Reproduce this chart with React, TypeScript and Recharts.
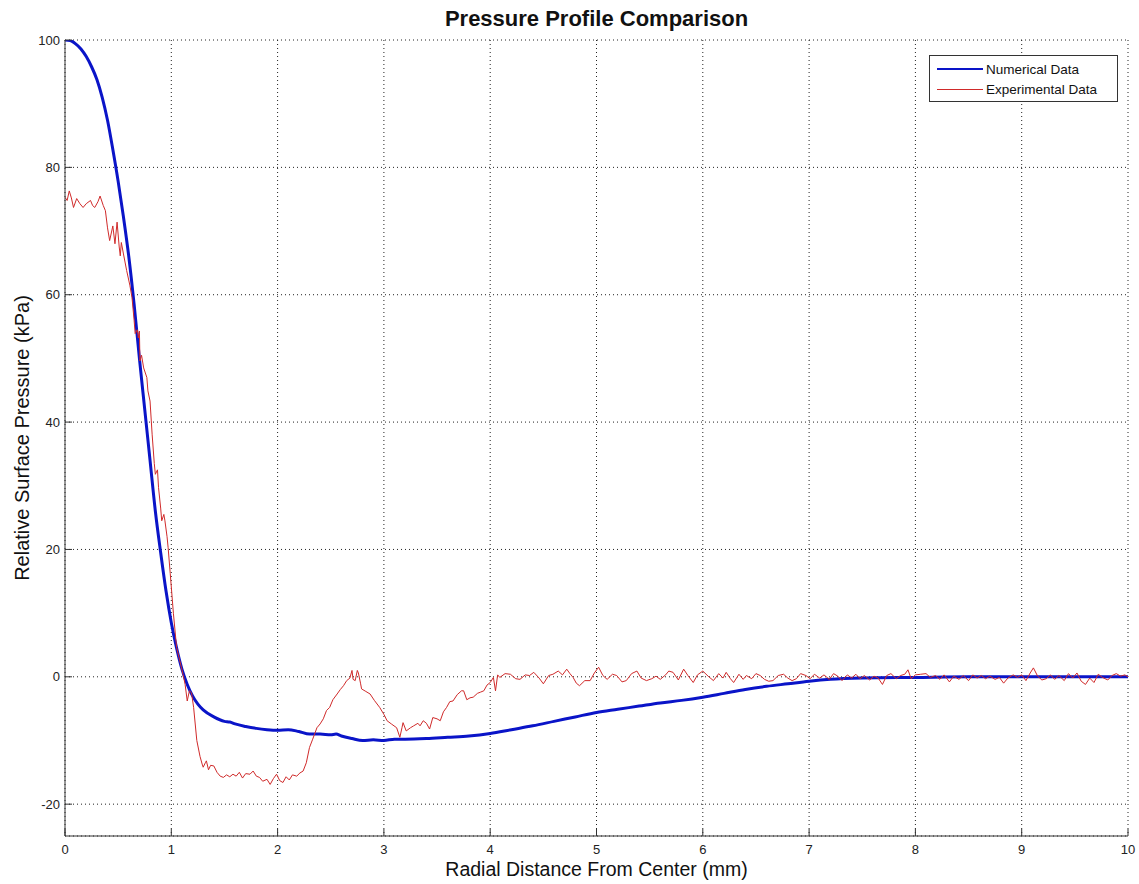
import { LineChart, Line, XAxis, YAxis, CartesianGrid, Legend } from 'recharts';

// Numerical (simulated) pressure profile
const numericalDistance = [
    0, 0.05, 0.1, 0.15, 0.2, 0.25, 0.3, 0.35, 0.4, 0.45, 0.5, 0.55, 0.6, 0.65, 0.7, 0.75, 0.8, 0.85, 0.9, 0.95,
    1.0, 1.05, 1.1, 1.15, 1.2, 1.25, 1.3, 1.4, 1.5, 1.55, 1.6, 1.7, 1.8, 1.9, 2.0, 2.1, 2.2, 2.3, 2.4, 2.5,
    2.55, 2.6, 2.7, 2.8, 2.9, 3.0, 3.1, 3.2, 3.4, 3.6, 3.8, 4.0, 4.2, 4.4, 4.6, 4.8, 5.0, 5.2, 5.4, 5.6,
    5.8, 6.0, 6.2, 6.4, 6.6, 6.8, 7.0, 7.2, 7.5, 8.0, 8.5, 9.0, 9.5, 10.0,
];
const numericalPressure = [
    100, 99.9, 99.4, 98.6, 97.4, 95.8, 93.8, 91.0, 87.4, 82.8, 77.8, 72.2, 66, 58.5, 50, 42, 34, 26, 19.5, 13.5,
    8.5, 4.5, 1.2, -1.2, -3.0, -4.3, -5.2, -6.3, -7.0, -7.1, -7.4, -7.8, -8.1, -8.3, -8.4, -8.3, -8.6, -9.0, -9.0, -9.1,
    -9.0, -9.3, -9.7, -10.0, -9.9, -10.0, -9.8, -9.8, -9.7, -9.5, -9.3, -8.9, -8.3, -7.7, -7.0, -6.3, -5.6, -5.1, -4.6, -4.1,
    -3.7, -3.2, -2.6, -2.0, -1.5, -1.1, -0.7, -0.4, -0.2, -0.1, 0, 0, 0, 0,
];

// Experimental readings [distance mm, pressure kPa]
const experimentalReadings: [number, number][] = [
    [0.00, 75.3], [0.02, 74.8], [0.04, 76.3], [0.06, 75.2], [0.08, 73.7], [0.11, 75.1], [0.14, 74.3], [0.17, 73.7],
    [0.20, 74.3], [0.24, 74.8], [0.26, 74.0], [0.28, 73.7], [0.31, 74.6], [0.33, 75.5], [0.36, 74.0], [0.38, 73.2],
    [0.40, 70.5], [0.42, 68.5], [0.45, 70.8], [0.47, 68.0], [0.49, 71.4], [0.51, 67.5], [0.52, 66.1], [0.53, 68.2],
    [0.55, 66.4], [0.58, 63.8], [0.61, 61.5], [0.63, 59.6], [0.65, 56.0], [0.66, 53.9], [0.68, 54.5], [0.69, 53.2],
    [0.70, 54.3], [0.705, 49.6], [0.72, 50.5], [0.74, 48.5], [0.77, 47.0], [0.78, 44.9], [0.80, 43.3], [0.82, 38.0],
    [0.84, 33.5], [0.85, 31.8], [0.87, 32.5], [0.88, 29.7], [0.90, 26.5], [0.91, 24.5], [0.93, 25.5], [0.94, 24.5],
    [0.96, 22.0], [0.97, 20.3], [0.99, 16.2], [1.02, 9.9], [1.05, 4.6], [1.08, 2.5], [1.11, 0.4], [1.13, -1.2],
    [1.15, -3.8], [1.17, -2.2], [1.19, -2.5], [1.21, -4.8], [1.24, -10.0], [1.27, -12.5], [1.29, -13.7], [1.30, -14.2],
    [1.32, -13.5], [1.33, -13.2], [1.35, -14.6], [1.37, -13.9], [1.40, -14.0], [1.43, -15.0], [1.46, -15.6], [1.49, -15.8],
    [1.52, -15.4], [1.55, -15.7], [1.58, -15.3], [1.61, -15.6], [1.64, -15.0], [1.67, -15.9], [1.70, -15.2], [1.74, -15.3],
    [1.77, -14.8], [1.80, -15.6], [1.83, -15.8], [1.86, -16.4], [1.90, -16.1], [1.93, -16.9], [1.96, -16.0], [1.99, -15.3],
    [2.02, -16.3], [2.05, -16.6], [2.08, -15.7], [2.11, -16.2], [2.14, -15.4], [2.18, -15.6], [2.21, -15.1], [2.24, -14.8],
    [2.27, -13.5], [2.30, -11.1], [2.33, -9.8], [2.37, -8.0], [2.40, -7.4], [2.43, -6.6], [2.46, -5.3], [2.49, -4.8],
    [2.52, -3.6], [2.56, -2.7], [2.59, -2.0], [2.62, -1.4], [2.65, -0.6], [2.68, -0.2], [2.70, 1.0], [2.71, -0.4],
    [2.73, -0.6], [2.75, 1.0], [2.76, 0.6], [2.78, -1.0], [2.79, -1.9], [2.83, -2.3], [2.87, -2.7], [2.91, -3.7],
    [2.96, -4.8], [3.00, -5.9], [3.03, -6.9], [3.07, -7.4], [3.12, -8.0], [3.15, -9.5], [3.17, -8.0], [3.18, -7.2],
    [3.21, -8.5], [3.25, -8.0], [3.28, -7.7], [3.32, -7.3], [3.34, -7.7], [3.37, -6.9], [3.40, -7.3], [3.43, -8.2],
    [3.46, -6.4], [3.50, -6.6], [3.53, -6.9], [3.56, -5.5], [3.59, -4.8], [3.62, -3.9], [3.65, -3.8], [3.69, -2.8],
    [3.73, -2.2], [3.75, -2.2], [3.78, -3.6], [3.81, -3.3], [3.84, -3.2], [3.88, -2.6], [3.91, -2.4], [3.94, -2.2],
    [3.97, -1.3], [4.00, -0.9], [4.03, -0.1], [4.05, -2.2], [4.07, 0.3], [4.09, -0.1], [4.14, 0.5], [4.19, 0.4],
    [4.24, -0.3], [4.28, -0.4], [4.33, 0.3], [4.37, 0.2], [4.41, 0.7], [4.46, -0.2], [4.50, -1.1], [4.55, 0.2],
    [4.59, 0.4], [4.64, 0.9], [4.68, 0.3], [4.72, 1.2], [4.75, 0.5], [4.78, -0.1], [4.81, -1.0], [4.84, -1.4],
    [4.89, -0.6], [4.94, -0.6], [4.98, 0.6], [5.02, 1.5], [5.06, 0.2], [5.10, -0.4], [5.15, 0.4], [5.19, 0.2],
    [5.24, -0.8], [5.28, -0.6], [5.33, 0.5], [5.38, 0.9], [5.42, -0.2], [5.47, -0.6], [5.52, -0.3], [5.56, 0.1],
    [5.60, -0.4], [5.65, 0.3], [5.68, 0.9], [5.72, 0.7], [5.77, -0.5], [5.82, 1.2], [5.86, 0.2], [5.91, -0.9],
    [5.95, 0.3], [6.00, 0.9], [6.05, 0.1], [6.10, -0.6], [6.15, 0.5], [6.19, -0.2], [6.22, 0.7], [6.26, -0.3],
    [6.29, -0.9], [6.34, 0.4], [6.38, -0.4], [6.41, 0.2], [6.46, -0.3], [6.50, 0.5], [6.54, 0.2], [6.58, -0.4],
    [6.62, -0.7], [6.66, -0.6], [6.71, 0.2], [6.76, 0.4], [6.80, -0.2], [6.84, -0.6], [6.88, -0.3], [6.92, 0.5],
    [6.97, 0.2], [7.01, -0.3], [7.05, 0.4], [7.10, -0.2], [7.14, 0.3], [7.19, -0.4], [7.23, 0.5], [7.27, 0.1],
    [7.31, -0.6], [7.36, 0.3], [7.40, -0.2], [7.44, 0.4], [7.48, -0.3], [7.52, 0.2], [7.57, -0.5], [7.61, 0.1],
    [7.65, -0.2], [7.69, -1.2], [7.73, 0.2], [7.77, 0.5], [7.82, -0.3], [7.86, 0.2], [7.90, 0.4], [7.93, 1.1],
    [7.96, -0.3], [8.00, 0.3], [8.05, 0.4], [8.10, 0.5], [8.14, -0.1], [8.19, 0.2], [8.23, -0.4], [8.27, 0.3],
    [8.32, -0.8], [8.36, 0.1], [8.41, -0.4], [8.45, 0.2], [8.50, -0.6], [8.54, 0.3], [8.58, -0.2], [8.62, 0.2],
    [8.66, -0.3], [8.70, 0.1], [8.75, -0.4], [8.79, -0.1], [8.83, -1.0], [8.87, -0.2], [8.92, 0.3], [8.96, -0.1],
    [9.00, 0.3], [9.04, -0.6], [9.08, 0.6], [9.11, 1.4], [9.15, 0.1], [9.19, -0.5], [9.23, -0.3], [9.27, 0.3],
    [9.31, -0.4], [9.35, 0.2], [9.40, -0.6], [9.44, 0.5], [9.48, -0.2], [9.52, 0.6], [9.56, -0.7], [9.60, -1.2],
    [9.64, -0.2], [9.68, -0.9], [9.72, 0.4], [9.76, -0.1], [9.81, -0.5], [9.85, 0.2], [9.89, 0.5], [9.93, 0.1],
    [9.97, 0.3], [10.0, 0.0],
];

const xTicks = [0, 1, 2, 3, 4, 5, 6, 7, 8, 9, 10];
const yTicks = [-20, 0, 20, 40, 60, 80, 100];

const FONT = '"Liberation Sans", Arial, Helvetica, sans-serif';
const BLUE = '#0a14c8';
const RED = '#d02a2a';

const seriesInfo = [
    { name: 'Numerical Data', color: BLUE, width: 2 },
    { name: 'Experimental Data', color: RED, width: 1 },
];

const numericalData = numericalDistance.map((r, i) => ({ r, p: numericalPressure[i] }));
const experimentalData = experimentalReadings.map(([r, p]) => ({ r, p }));

// MATLAB-style boxed legend, fixed order
const renderLegend = () => (
    <div style={{ width: 189, height: 47, border: '1px solid #333', background: '#fff', boxSizing: 'border-box', padding: '3px 0 0 7px', fontFamily: FONT, fontSize: 13.5, color: '#111' }}>
        {seriesInfo.map((s) => (
            <div key={s.name} style={{ display: 'flex', alignItems: 'center', height: 20 }}>
                <span style={{ display: 'inline-block', width: 46, borderTop: `${s.width}px solid ${s.color}`, marginRight: 3 }} />
                <span>{s.name}</span>
            </div>
        ))}
    </div>
);

export default function App() {
    return (
        <div style={{ position: 'absolute', left: 0, top: 0, width: 1139, height: 884, background: '#fff' }}>
            <div style={{ position: 'absolute', left: 65, width: 1063, top: 6, textAlign: 'center', fontFamily: FONT, fontWeight: 'bold', fontSize: 22, color: '#111' }}>
                Pressure Profile Comparison
            </div>
            <LineChart width={1139} height={884} margin={{ top: 40, right: 11, bottom: 0, left: 0 }}>
                <CartesianGrid strokeDasharray="1 3" stroke="#222" />
                <XAxis
                    dataKey="r"
                    type="number"
                    domain={[0, 10]}
                    ticks={xTicks}
                    allowDataOverflow
                    height={48}
                    tickSize={-7}
                    tickMargin={16}
                    axisLine={{ stroke: '#333' }}
                    tickLine={{ stroke: '#333' }}
                    tick={{ fill: '#222', fontSize: 13, fontFamily: FONT }}
                    label={{ value: 'Radial Distance From Center (mm)', position: 'insideBottom', offset: 8, style: { fontFamily: FONT, fontSize: 19.5, fill: '#111' } }}
                />
                <XAxis xAxisId="top" orientation="top" type="number" domain={[0, 10]} ticks={xTicks} height={0} tickSize={-7} tickFormatter={() => ''} axisLine={{ stroke: '#333' }} tickLine={{ stroke: '#333' }} />
                <YAxis
                    type="number"
                    domain={[-25, 100]}
                    ticks={yTicks}
                    allowDataOverflow
                    width={65}
                    tickSize={-7}
                    tickMargin={12}
                    axisLine={{ stroke: '#333' }}
                    tickLine={{ stroke: '#333' }}
                    tick={{ fill: '#222', fontSize: 13, fontFamily: FONT }}
                    label={{ value: 'Relative Surface Pressure (kPa)', angle: -90, position: 'insideLeft', offset: 22, style: { textAnchor: 'middle', fontFamily: FONT, fontSize: 20, fill: '#111' } }}
                />
                <YAxis yAxisId="right" orientation="right" type="number" domain={[-25, 100]} ticks={yTicks} width={0} tickSize={-7} tickFormatter={() => ''} axisLine={{ stroke: '#333' }} tickLine={{ stroke: '#333' }} />
                <Legend
                    layout="vertical"
                    align="center"
                    verticalAlign="middle"
                    wrapperStyle={{ left: 929, top: 55, width: 189 }}
                    content={renderLegend}
                />
                <Line data={numericalData} dataKey="p" name="Numerical Data" type="monotone" stroke={BLUE} strokeWidth={3} dot={false} isAnimationActive={false} />
                <Line data={experimentalData} dataKey="p" name="Experimental Data" type="linear" stroke={RED} strokeWidth={1} dot={false} isAnimationActive={false} />
            </LineChart>
        </div>
    );
}
